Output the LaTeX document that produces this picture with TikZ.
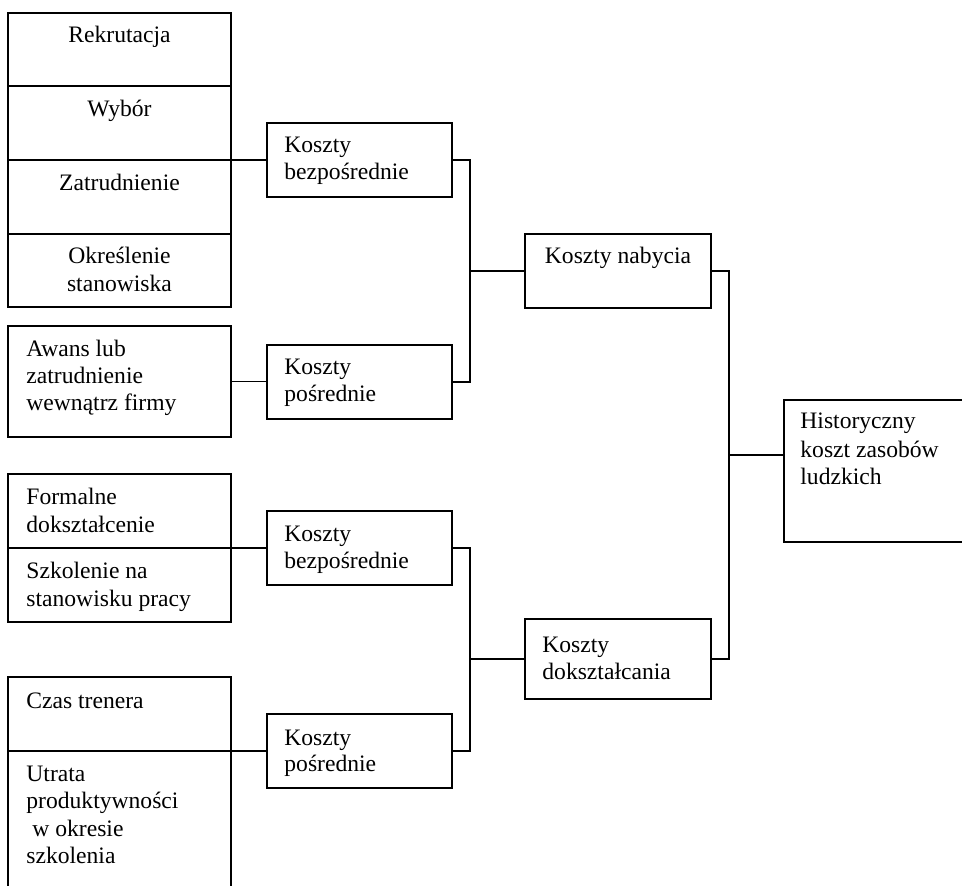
\documentclass[tikz,border=0pt]{standalone}
\usepackage{fontspec}
\setmainfont{Liberation Serif}
\usetikzlibrary{fit}
\begin{document}
\begin{tikzpicture}[x=0.5pt,y=-0.5pt,
  box/.style={draw,line width=0.8pt,inner sep=0pt,outer sep=0pt,fill=none},
  txt/.style={inner sep=0pt,anchor=base west,font=\fontsize{11.8}{13.5}\selectfont},
  ctxt/.style={txt,anchor=base},
  conn/.style={line width=0.8pt}]
\useasboundingbox (0,0) rectangle (962,886);
\clip (0,0) rectangle (962,886);
% left stack (acquisition)
\node[box,fit={(8,13) (231,86)}] (r1) {};
\node[box,fit={(8,86) (231,160)}] (r2) {};
\node[box,fit={(8,160) (231,234)}] (r3) {};
\node[box,fit={(8,234) (231,307)}] (r4) {};
\node[box,fit={(8,326) (231,437)}] (aw) {};
% middle column
\node[box,fit={(267,123) (452,197)}] (kb1) {};
\node[box,fit={(267,345) (452,419)}] (kp1) {};
\node[box,fit={(267,511) (452,585)}] (kb2) {};
\node[box,fit={(267,714) (452,788)}] (kp2) {};
% left stack (training)
\node[box,fit={(8,474) (231,548)}] (fo) {};
\node[box,fit={(8,548) (231,622)}] (sz) {};
\node[box,fit={(8,677) (231,751)}] (cz) {};
\node[box,fit={(8,751) (231,960)}] (ut) {};
% third column
\node[box,fit={(525,234) (711,308)}] (kn) {};
\node[box,fit={(525,619) (711,699)}] (kd) {};
% final
\node[box,fit={(784,400) (1010,542)}] (hi) {};

% texts
\node[ctxt] (t1) at (119.5,43) {Rekrutacja};
\node[ctxt] (t2) at (119.5,117) {Wybór};
\node[ctxt] (t3) at (119.5,191) {Zatrudnienie};
\node[ctxt] (t4) at (119.5,264) {Określenie};
\node[ctxt] (t5) at (119.5,292) {stanowiska};
\node[txt] (t6) at (26,357) {Awans lub};
\node[txt] (t7) at (26,384) {zatrudnienie};
\node[txt] (t8) at (26,411) {wewnątrz firmy};
\node[txt] (t9) at (284,153) {Koszty};
\node[txt] (t10) at (284,180) {bezpośrednie};
\node[txt] (t11) at (284,375) {Koszty};
\node[txt] (t12) at (284,402) {pośrednie};
\node[txt] (t13) at (26,504) {Formalne};
\node[txt] (t14) at (26,532) {dokształcenie};
\node[txt] (t15) at (26,578) {Szkolenie na};
\node[txt] (t16) at (26,606) {stanowisku pracy};
\node[txt] (t17) at (284,541) {Koszty};
\node[txt] (t18) at (284,568) {bezpośrednie};
\node[txt] (t19) at (26,708) {Czas trenera};
\node[txt] (t20) at (26,781) {Utrata};
\node[txt] (t21) at (26,808) {produktywności};
\node[txt] (t22) at (32,836) {w okresie};
\node[txt] (t23) at (26,863) {szkolenia};
\node[txt] (t24) at (284,745) {Koszty};
\node[txt] (t25) at (284,771) {pośrednie};
\node[ctxt] (t26) at (618,264) {Koszty nabycia};
\node[txt] (t27) at (542,652) {Koszty};
\node[txt] (t28) at (542,679) {dokształcania};
\node[txt] (t29) at (800,429) {Historyczny};
\node[txt] (t30) at (800,458) {koszt zasobów};
\node[txt] (t31) at (800,485) {ludzkich};

% junctions
\coordinate (j1) at (470,271);
\coordinate (j2) at (470,659);
\coordinate (j3) at (729,455);

% connectors
\draw[conn] (r3.north east) -- (r3.north east -| kb1.west);
\draw[conn] (aw.east) -- (aw.east -| kp1.west);
\draw[conn] (fo.south east) -- (fo.south east -| kb2.west);
\draw[conn] (cz.south east) -- (cz.south east -| kp2.west);
\draw[conn] (kb1.east) -| (j1) |- (kp1.east);
\draw[conn] (j1) -- (j1 -| kn.west);
\draw[conn] (kb2.east) -| (j2) |- (kp2.east);
\draw[conn] (j2) -- (j2 -| kd.west);
\draw[conn] (kn.east) -| (j3) |- (kd.east);
\draw[conn] (j3) -- (hi.west |- j3);
\end{tikzpicture}
\end{document}
